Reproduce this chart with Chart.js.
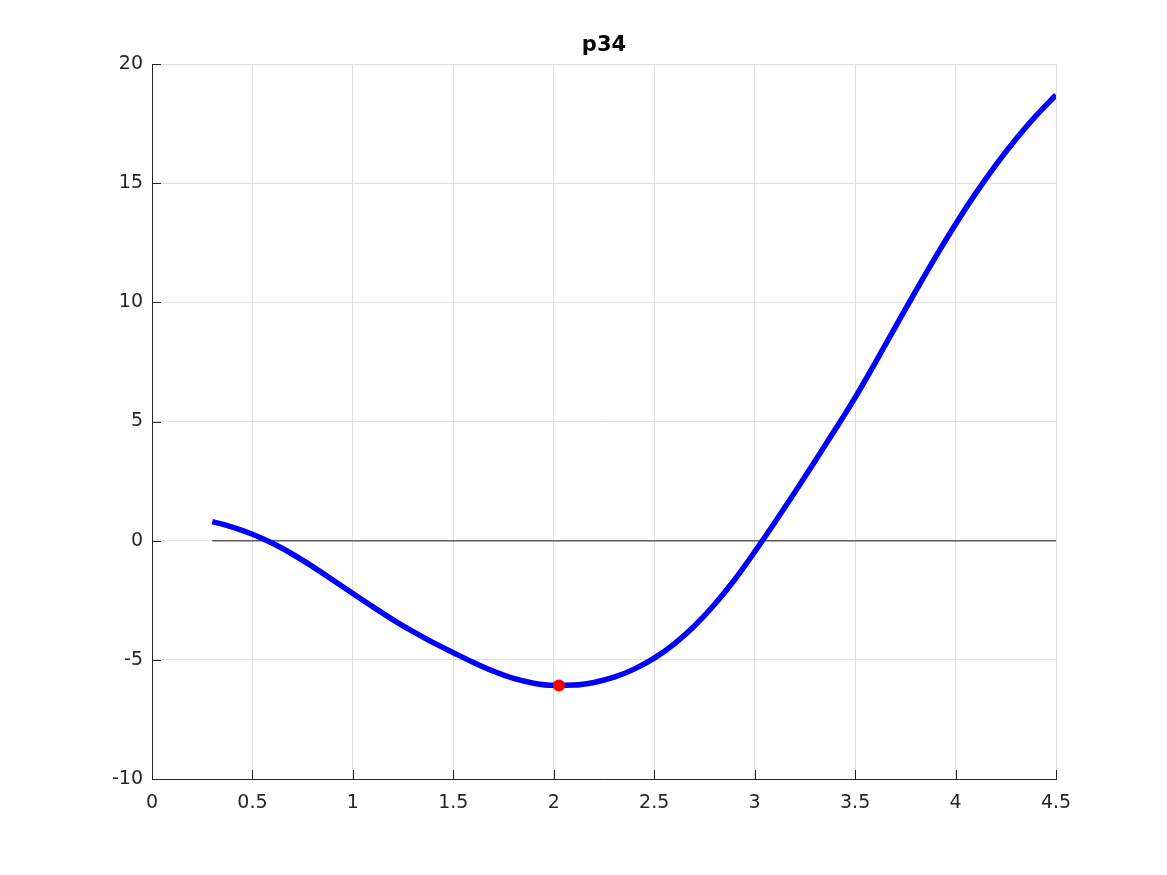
<!DOCTYPE html>
<html>
<head>
<meta charset="utf-8">
<script src="https://cdn.jsdelivr.net/npm/chart.js@4/dist/chart.umd.min.js"></script>
<style>
  html, body { margin: 0; padding: 0; background: #fff; }
  #wrap { width: 1167px; height: 875px; }
</style>
</head>
<body>
<div id="wrap"><canvas id="myChart"></canvas></div>
<script>
// curve p34, values
var xs = [0.3, 0.4, 0.5, 0.6, 0.7, 0.8, 0.9, 1.0, 1.1, 1.2, 1.3, 1.4, 1.5, 1.6, 1.7, 1.8, 1.9, 2.0, 2.1, 2.2,
          2.3, 2.4, 2.5, 2.6, 2.7, 2.8, 2.9, 3.0, 3.1, 3.2, 3.3, 3.4, 3.5, 3.6, 3.7, 3.8, 3.9, 4.0, 4.1, 4.2,
          4.3, 4.4, 4.5];
var ys = [0.80, 0.57, 0.27, -0.11, -0.57, -1.09, -1.65, -2.22, -2.78, -3.32, -3.82, -4.28, -4.70, -5.11, -5.48, -5.78, -5.98, -6.07, -6.06, -5.95,
          -5.73, -5.39, -4.93, -4.33, -3.58, -2.68, -1.64, -0.47, 0.76, 2.03, 3.33, 4.65, 6.00, 7.46, 8.96, 10.45, 11.90, 13.28, 14.57, 15.76,
          16.84, 17.82, 18.70];
var minPoint = [2.026, -6.08];
var zeroLine = [[0.3, 0], [4.5, 0]];
var xTicks = [0, 0.5, 1, 1.5, 2, 2.5, 3, 3.5, 4, 4.5];
var yTicks = [-10, -5, 0, 5, 10, 15, 20];
var title = 'p34';

var curve = xs.map(function (x, i) { return { x: x, y: ys[i] }; });

// MATLAB style: tick marks pointing inward + title over the axes centre
var matlabBits = {
    id: 'matlabBits',
    afterDraw: function (chart) {
        var ctx = chart.ctx, a = chart.chartArea;
        var sx = chart.scales.x, sy = chart.scales.y;
        ctx.save();
        ctx.strokeStyle = '#262626';
        ctx.lineWidth = 1;
        ctx.beginPath();
        xTicks.forEach(function (v) {
            var px = Math.round(sx.getPixelForValue(v)) + 0.5;
            ctx.moveTo(px, a.bottom);
            ctx.lineTo(px, a.bottom - 9);
        });
        yTicks.forEach(function (v) {
            var py = Math.round(sy.getPixelForValue(v)) + 0.5;
            ctx.moveTo(a.left, py);
            ctx.lineTo(a.left + 9, py);
        });
        ctx.stroke();

        ctx.fillStyle = '#000';
        ctx.font = 'bold 21px "DejaVu Sans"';
        ctx.textAlign = 'center';
        ctx.textBaseline = 'middle';
        ctx.fillText(title, (a.left + a.right) / 2, 46);
        ctx.restore();
    }
};

var tickFont = { family: 'DejaVu Sans', size: 19 };
var fmt = function (v) { return String(v); };

new Chart(document.getElementById('myChart'), {
    type: 'line',
    data: {
        datasets: [{
            data: [{ x: minPoint[0], y: minPoint[1] }],
            showLine: false,
            pointRadius: 6,
            pointBackgroundColor: '#ff0000',
            pointBorderColor: '#ff0000',
            pointBorderWidth: 0
        }, {
            data: curve,
            borderColor: '#0000ff',
            borderWidth: 5.5,
            pointRadius: 0,
            cubicInterpolationMode: 'monotone',
            fill: false
        }, {
            data: zeroLine.map(function (p) { return { x: p[0], y: p[1] }; }),
            borderColor: '#5a5a5a',
            borderWidth: 1.5,
            pointRadius: 0,
            fill: false
        }]
    },
    options: {
        responsive: true,
        maintainAspectRatio: false,
        animation: false,
        layout: { padding: { left: 92, right: 111, top: 64, bottom: 56 } },
        plugins: {
            legend: { display: false },
            tooltip: { enabled: false },
            title: { display: false }
        },
        scales: {
            x: {
                type: 'linear',
                min: 0,
                max: 4.5,
                afterFit: function (s) { s.height = 40; },
                afterBuildTicks: function (s) { s.ticks = xTicks.map(function (v) { return { value: v }; }); },
                ticks: { color: '#262626', font: tickFont, padding: 13, maxRotation: 0, callback: fmt },
                grid: { color: '#e0e0e0', drawTicks: false },
                border: { color: '#262626', width: 1 }
            },
            y: {
                type: 'linear',
                min: -10,
                max: 20,
                afterFit: function (s) { s.width = 60; },
                afterBuildTicks: function (s) { s.ticks = yTicks.map(function (v) { return { value: v }; }); },
                ticks: { color: '#262626', font: tickFont, padding: 9, callback: fmt },
                grid: { color: '#e0e0e0', drawTicks: false },
                border: { color: '#262626', width: 1 }
            }
        }
    },
    plugins: [matlabBits]
});
</script>
</body>
</html>
